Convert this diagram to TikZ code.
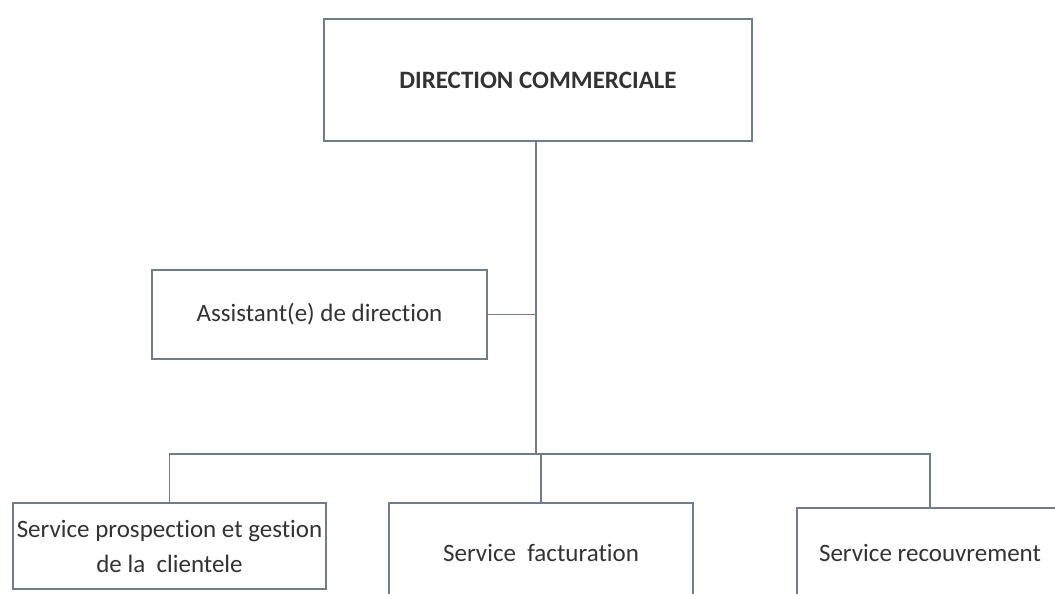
\documentclass[tikz,border=0pt]{standalone}
\usepackage{fontspec}
\setmainfont{Carlito}[Ligatures={NoCommon,NoContextual}]
\definecolor{edgeblue}{HTML}{6E7C8E}
\definecolor{inkgray}{HTML}{333333}
\tikzset{
  orgbox/.style={draw=edgeblue, line width=1.6pt, fill=white, rectangle,
    inner sep=0pt, outer sep=0pt, align=center, text=inkgray,
    font=\fontsize{25}{35}\selectfont},
  link/.style={draw=edgeblue, line width=1.6pt}
}
\begin{document}
\begin{tikzpicture}[x=1pt, y=-1pt]
  \useasboundingbox (0,0) rectangle (1055,594);
  \clip (0,0) rectangle (1055,594);
  \fill[white] (0,0) rectangle (1055,594);

  % boxes of the organisation chart
  \node[orgbox, minimum width=428pt, minimum height=122pt,
        font=\bfseries\fontsize{25}{28}\selectfont]
        (dir) at (538,80) {DIRECTION COMMERCIALE};
  \node[orgbox, minimum width=335pt, minimum height=89pt]
        (asst) at (319.5,314.5) {Assistant(e) de direction};
  \node[orgbox, minimum width=313pt, minimum height=86pt]
        (prosp) at (169.5,546) {Service prospection et gestion\\de la~~clientele};
  \node[orgbox, minimum width=304pt, minimum height=100pt]
        (fact) at (541,553) {Service~~facturation};
  \node[orgbox, minimum width=266pt, minimum height=90pt]
        (rec) at (930,553) {Service recouvrement};

  % connectors
  \coordinate (j) at (536,454);
  \draw[link] (j |- dir.south) -- (j);
  \draw[link] (asst.east) -- (asst.east -| j);
  \draw[link] (prosp.north) |- (rec.north |- j) -- (rec.north);
  \draw[link] (fact.north) -- (fact.north |- j);
\end{tikzpicture}
\end{document}
